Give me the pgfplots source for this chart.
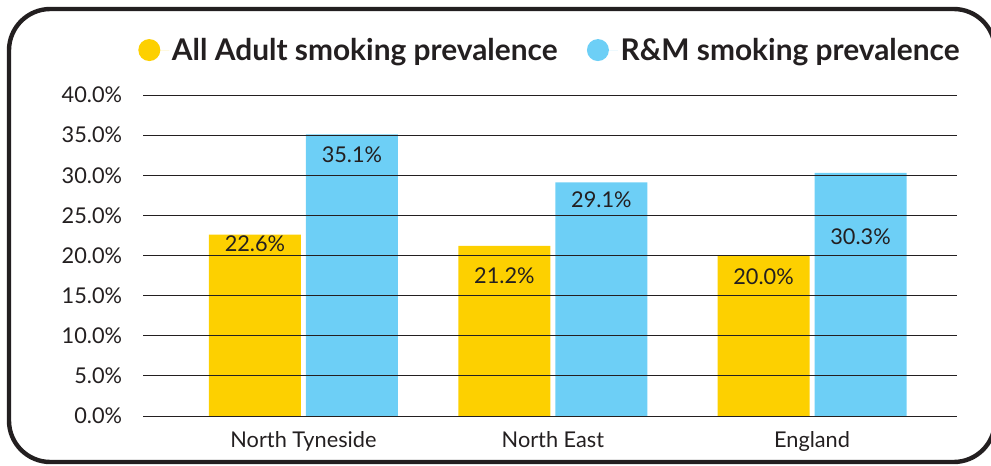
\documentclass[border=0pt]{standalone}
\usepackage{pgfplots}
\pgfplotsset{compat=1.18}
\usepackage{fontspec}
\setmainfont{Lato}
\definecolor{ylw}{RGB}{253,208,0}
\definecolor{blu}{RGB}{109,207,246}
\definecolor{txt}{RGB}{35,31,32}
\pgfplotstableread{
x   adult rm
0     22.6  35.1
0.981 21.2  29.1
2     20.0  30.3
}\datatable
\begin{document}
\begin{tikzpicture}[x=0.75pt,y=0.75pt]
\useasboundingbox (0,0) rectangle (991,465);
\draw[line width=3.3pt, color=txt, rounded corners=31pt] (9,3) rectangle (995,456);
\coordinate (O) at (143,49);
\begin{axis}[
  at={(O)}, anchor=south west,
  width=610.5pt, height=240.75pt, scale only axis,
  xmin=-0.631, xmax=2.570, ymin=0, ymax=40,
  ybar=3.75pt, bar width=69pt,
  axis line style={draw=none},
  axis on top,
  major tick length=0pt,
  ytick={5,10,...,40},
  yticklabels={5.0\%,10.0\%,15.0\%,20.0\%,25.0\%,30.0\%,35.0\%,40.0\%},
  extra y ticks={0},
  extra y tick labels={0.0\%},
  extra y tick style={grid style={color=black!65, line width=1.5pt}},
  ymajorgrids,
  major grid style={color=txt, line width=0.75pt},
  xtick={0,0.981,2},
  xticklabels={North Tyneside, North East, England},
  yticklabel style={font=\fontsize{16.3}{19}\selectfont, color=txt, anchor=east, inner sep=0pt, xshift=-15.5pt},
  xticklabel style={font=\fontsize{16.3}{19}\selectfont, color=txt, anchor=north, inner sep=0pt, yshift=-11.5pt},
  legend columns=2,
  legend style={draw=none, fill=none, at={(-0.011,1.14)}, anchor=west,
    font=\fontsize{22.4}{26}\selectfont\bfseries, text=txt,
    /tikz/every even column/.append style={column sep=20pt}},
  legend image code/.code={\fill[#1] (0pt,0pt) circle (8.25pt); \path (0pt,0pt) -- (15pt,0pt);},
]
\addplot[fill=ylw, draw=none] table[x=x, y=adult] {\datatable};
\addlegendentry{All Adult smoking prevalence}
\addplot[fill=blu, draw=none] table[x=x, y=rm] {\datatable};
\addlegendentry{R\&M smoking prevalence}
\begin{scope}[every node/.style={font=\fontsize{16.3}{19}\selectfont, text=txt}]
\node at (axis cs:0,21.5) [xshift=-36.375pt] {22.6\%};
\node at (axis cs:0,32.5) [xshift=36.375pt] {35.1\%};
\node at (axis cs:0.981,17.5) [xshift=-36.375pt] {21.2\%};
\node at (axis cs:0.981,26.9) [xshift=36.375pt] {29.1\%};
\node at (axis cs:2,17.4) [xshift=-36.375pt] {20.0\%};
\node at (axis cs:2,22.3) [xshift=36.375pt] {30.3\%};
\end{scope}
\end{axis}
\end{tikzpicture}
\end{document}
